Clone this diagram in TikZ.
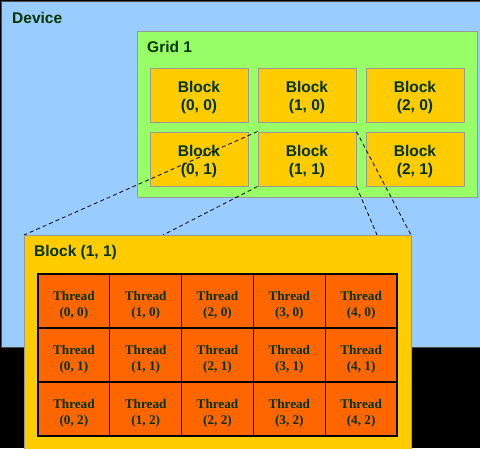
\documentclass[tikz,border=0pt]{standalone}
\usepackage{fontspec}
\setmainfont{Liberation Serif}
\setsansfont{Liberation Sans}
\definecolor{txt}{HTML}{003300}
\definecolor{dblue}{HTML}{99CCFF}
\definecolor{ggreen}{HTML}{99FF66}
\definecolor{byellow}{HTML}{FFCC00}
\definecolor{torange}{HTML}{FF6600}
\definecolor{edge}{HTML}{999999}
\begin{document}
\begin{tikzpicture}[x=1pt,y=-1pt,
  lbl/.style={font=\sffamily\bfseries\fontsize{15.5}{19}\selectfont, text=txt, inner sep=0pt, anchor=base west},
  area/.style={draw=edge, line width=1pt, inner sep=0pt, anchor=north west},
  blk/.style={draw=edge, line width=1pt, fill=byellow, minimum width=98pt, minimum height=54pt, inner sep=0pt, align=center, text height=35pt, font=\sffamily\bfseries\fontsize{15.5}{18}\selectfont, text=txt},
  thr/.style={draw=black, line width=1.1pt, fill=torange, minimum width=71.8pt, minimum height=54pt, inner sep=0pt, align=center, text height=33pt, font=\rmfamily\bfseries\fontsize{13.2}{16}\selectfont, text=txt},
  conn/.style={black, line width=0.8pt, dash pattern=on 4pt off 3pt}]
\useasboundingbox (0,0) rectangle (480,448);
\fill[black] (0,0) rectangle (480,448);
% device
\node[area, draw=black!70, line width=1.5pt, fill=dblue, minimum width=482pt, minimum height=346pt] (dev) at (0.5,0.5) {};
\node[lbl] (devlbl) at (12,23) {Device};
% grid
\node[area, fill=ggreen, minimum width=340pt, minimum height=166pt] (grid) at (137,31) {};
\node[lbl] (gridlbl) at (147,52) {Grid 1};
% blocks
\node[blk] (b00) at (199,95) {Block\\(0, 0)};
\node[blk] (b10) at (307,95) {Block\\(1, 0)};
\node[blk] (b20) at (415,95) {Block\\(2, 0)};
\node[blk] (b01) at (199,159) {Block\\(0, 1)};
\node[blk] (b11) at (307,159) {Block\\(1, 1)};
\node[blk] (b21) at (415,159) {Block\\(2, 1)};
% zoomed block
\coordinate (bbl) at (163,235);
\coordinate (bbr) at (377,235);
\draw[conn] (b11.north west) -- (24,235);
\draw[conn] (b11.south west) -- (bbl);
\draw[conn] (b11.north east) -- (411,235);
\draw[conn] (b11.south east) -- (bbr);
\node[area, fill=byellow, minimum width=387pt, minimum height=230pt] (bb) at (24,235) {};
\node[lbl] (bblbl) at (34,256) {Block (1, 1)};
\foreach \j in {0,1,2}{
  \foreach \i in {0,1,2,3,4}{
    \node[thr] (t\i\j) at ({38+71.8*(\i+0.5)},{274+54*(\j+0.5)}) {Thread\\(\i, \j)};
  }
}
\end{tikzpicture}
\end{document}
